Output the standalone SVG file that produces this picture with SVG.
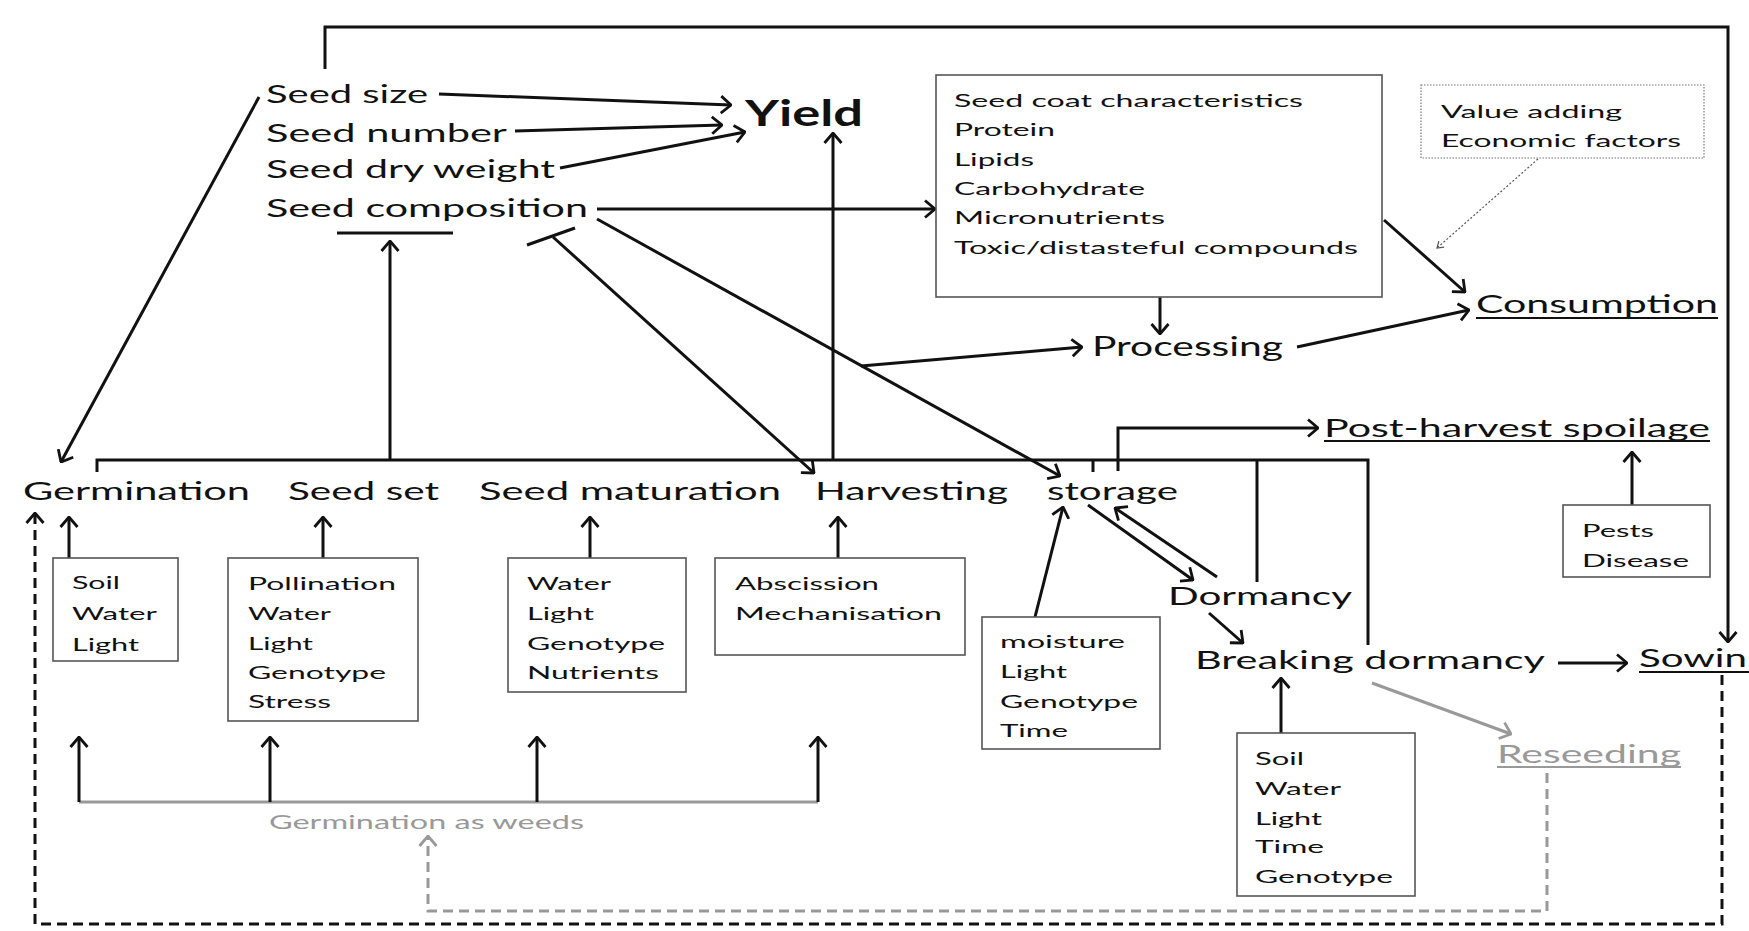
<svg xmlns="http://www.w3.org/2000/svg" width="1749" height="931" viewBox="0 0 1749 931">
<defs>
<style>
text{font-family:Lato,"Liberation Sans",sans-serif;fill:#111}
.m{font-size:25px}
.s{font-size:18px}
.y{font-size:36px;font-weight:bold}
.g{fill:#999}
.box{fill:#fff;stroke:#555;stroke-width:1.6}
.dbox{fill:#fff;stroke:#777;stroke-width:1.2;stroke-dasharray:1.5 1.5}
.ln{fill:none;stroke:#111;stroke-width:3}
.gl{fill:none;stroke:#999;stroke-width:3}
.a{marker-end:url(#ah)}
.ga{marker-end:url(#gah)}
.dash{fill:none;stroke:#111;stroke-width:3;stroke-dasharray:10 6}
.gdash{fill:none;stroke:#999;stroke-width:3;stroke-dasharray:10 6}
.dot{fill:none;stroke:#555;stroke-width:1.2;stroke-dasharray:2 2;marker-end:url(#sah)}
.ul{stroke:#111;stroke-width:2}
.gul{stroke:#999;stroke-width:2}
</style>
<marker id="ah" markerUnits="userSpaceOnUse" viewBox="0 0 12 20" markerWidth="12" markerHeight="20" refX="11" refY="10" orient="auto"><path d="M1,1.5 L11,10 L1,18.5" fill="none" stroke="#111" stroke-width="2.8"/></marker>
<marker id="gah" markerUnits="userSpaceOnUse" viewBox="0 0 12 20" markerWidth="12" markerHeight="20" refX="11" refY="10" orient="auto"><path d="M1,1.5 L11,10 L1,18.5" fill="none" stroke="#999" stroke-width="2.8"/></marker>
<marker id="sah" markerUnits="userSpaceOnUse" viewBox="0 0 8 10" markerWidth="8" markerHeight="10" refX="7" refY="5" orient="auto"><path d="M1,1 L7,5 L1,9" fill="none" stroke="#555" stroke-width="1.2"/></marker>
</defs>
<rect x="0" y="0" width="1749" height="931" fill="#fff"/>

<g id="connectors">
<polyline class="ln a" points="325,69 325,27 1728,27 1728,642"/>
<line class="ln a" x1="439" y1="94" x2="731" y2="105"/>
<line class="ln a" x1="515" y1="131" x2="722" y2="125"/>
<line class="ln a" x1="560" y1="168" x2="745" y2="132"/>
<line class="ln a" x1="597" y1="209" x2="935" y2="209"/>
<line class="ln a" x1="597" y1="219" x2="1060" y2="476"/>
<line class="ln a" x1="861" y1="366" x2="1082" y2="347"/>
<line class="ln" x1="527" y1="245" x2="575" y2="228"/>
<line class="ln a" x1="553" y1="237" x2="814" y2="473"/>
<line class="ln" x1="337" y1="233" x2="453" y2="233"/>
<line class="ln a" x1="390" y1="460" x2="390" y2="241"/>
<line class="ln a" x1="833" y1="460" x2="833" y2="133"/>
<line class="ln a" x1="259" y1="97" x2="61" y2="462"/>
<polyline class="ln" points="97,472 97,460 1368,460 1368,645"/>
<line class="ln" x1="1093" y1="460" x2="1093" y2="472"/>
<polyline class="ln a" points="1118,471 1118,428 1318,428"/>
<line class="ln" x1="1257" y1="460" x2="1257" y2="582"/>
<line class="ln a" x1="1035" y1="617" x2="1063" y2="507"/>
<line class="ln a" x1="1088" y1="505" x2="1193" y2="580"/>
<line class="ln a" x1="1217" y1="577" x2="1115" y2="508"/>
<line class="ln a" x1="1209" y1="613" x2="1243" y2="643"/>
<line class="ln a" x1="1558" y1="663" x2="1627" y2="663"/>
<line class="gl ga" x1="1372" y1="683" x2="1511" y2="734"/>
<line class="ln a" x1="1281" y1="733" x2="1281" y2="678"/>
<line class="ln a" x1="1632" y1="505" x2="1632" y2="452"/>
<line class="ln a" x1="1160" y1="297" x2="1160" y2="334"/>
<line class="ln a" x1="1297" y1="347" x2="1469" y2="310"/>
<line class="ln a" x1="1384" y1="220" x2="1465" y2="292"/>
<line class="dot" x1="1538" y1="159" x2="1437" y2="248"/>
<line class="ln a" x1="69" y1="558" x2="69" y2="517"/>
<line class="ln a" x1="323" y1="558" x2="323" y2="517"/>
<line class="ln a" x1="590" y1="558" x2="590" y2="517"/>
<line class="ln a" x1="838" y1="558" x2="838" y2="517"/>
<line class="gl" x1="79" y1="802" x2="818" y2="802"/>
<line class="ln a" x1="79" y1="802" x2="79" y2="737"/>
<line class="ln a" x1="270" y1="802" x2="270" y2="737"/>
<line class="ln a" x1="537" y1="802" x2="537" y2="737"/>
<line class="ln a" x1="818" y1="802" x2="818" y2="737"/>
<polyline class="dash a" points="1722,675 1722,924 35,924 35,513"/>
<polyline class="gdash ga" points="1547,773 1547,911 428,911 428,836"/>
</g>

<g id="seed-size"><text class="m" x="266" y="103" textLength="162" lengthAdjust="spacingAndGlyphs">Seed size</text></g>
<g id="seed-number"><text class="m" x="266" y="142" textLength="241" lengthAdjust="spacingAndGlyphs">Seed number</text></g>
<g id="seed-dry-weight"><text class="m" x="266" y="178" textLength="289" lengthAdjust="spacingAndGlyphs">Seed dry weight</text></g>
<g id="seed-composition"><text class="m" x="266" y="217" textLength="322" lengthAdjust="spacingAndGlyphs">Seed composition</text></g>
<g id="yield"><text class="y" x="745" y="126" textLength="118" lengthAdjust="spacingAndGlyphs">Yield</text></g>

<g id="composition-box">
<rect class="box" x="936" y="75" width="446" height="222"/>
<text class="s" x="954" y="107" textLength="349" lengthAdjust="spacingAndGlyphs">Seed coat characteristics</text>
<text class="s" x="954" y="136" textLength="101" lengthAdjust="spacingAndGlyphs">Protein</text>
<text class="s" x="954" y="166" textLength="80" lengthAdjust="spacingAndGlyphs">Lipids</text>
<text class="s" x="954" y="195" textLength="191" lengthAdjust="spacingAndGlyphs">Carbohydrate</text>
<text class="s" x="954" y="224" textLength="211" lengthAdjust="spacingAndGlyphs">Micronutrients</text>
<text class="s" x="954" y="254" textLength="404" lengthAdjust="spacingAndGlyphs">Toxic/distasteful compounds</text>
</g>

<g id="value-adding">
<rect class="dbox" x="1421" y="85" width="283" height="73"/>
<text class="s" x="1441" y="118" textLength="181" lengthAdjust="spacingAndGlyphs">Value adding</text>
<text class="s" x="1441" y="147" textLength="240" lengthAdjust="spacingAndGlyphs">Economic factors</text>
</g>

<g id="processing"><text class="m" style="font-size:26px" x="1092" y="356" textLength="191" lengthAdjust="spacingAndGlyphs">Processing</text></g>
<g id="consumption"><text class="m" x="1476" y="313" textLength="242" lengthAdjust="spacingAndGlyphs">Consumption</text><line class="ul" x1="1476" y1="318" x2="1718" y2="318"/></g>
<g id="post-harvest-spoilage"><text class="m" x="1324" y="437" textLength="386" lengthAdjust="spacingAndGlyphs">Post-harvest spoilage</text><line class="ul" x1="1324" y1="441" x2="1710" y2="441"/></g>

<g id="germination"><text class="m" x="23" y="500" textLength="227" lengthAdjust="spacingAndGlyphs">Germination</text></g>
<g id="seed-set"><text class="m" x="288" y="500" textLength="151" lengthAdjust="spacingAndGlyphs">Seed set</text></g>
<g id="seed-maturation"><text class="m" x="479" y="500" textLength="302" lengthAdjust="spacingAndGlyphs">Seed maturation</text></g>
<g id="harvesting"><text class="m" x="815" y="500" textLength="193" lengthAdjust="spacingAndGlyphs">Harvesting</text></g>
<g id="storage"><text class="m" x="1047" y="500" textLength="131" lengthAdjust="spacingAndGlyphs">storage</text></g>
<g id="dormancy"><text class="m" x="1168" y="605" textLength="184" lengthAdjust="spacingAndGlyphs">Dormancy</text></g>
<g id="breaking-dormancy"><text class="m" x="1195" y="669" textLength="350" lengthAdjust="spacingAndGlyphs">Breaking dormancy</text></g>
<g id="sowing"><text class="m" x="1639" y="667" textLength="108" lengthAdjust="spacingAndGlyphs">Sowin</text><line class="ul" x1="1639" y1="672" x2="1749" y2="672"/></g>
<g id="reseeding"><text class="m g" x="1497" y="763" textLength="184" lengthAdjust="spacingAndGlyphs">Reseeding</text><line class="gul" x1="1497" y1="767" x2="1681" y2="767"/></g>
<g id="germination-as-weeds"><text class="g" style="font-size:20px" x="269" y="829" textLength="315" lengthAdjust="spacingAndGlyphs">Germination as weeds</text></g>

<g id="germination-factors">
<rect class="box" x="53" y="558" width="125" height="103"/>
<text class="s" x="72" y="589" textLength="48" lengthAdjust="spacingAndGlyphs">Soil</text>
<text class="s" x="72" y="620" textLength="85" lengthAdjust="spacingAndGlyphs">Water</text>
<text class="s" x="72" y="651" textLength="67" lengthAdjust="spacingAndGlyphs">Light</text>
</g>

<g id="seed-set-factors">
<rect class="box" x="228" y="558" width="190" height="163"/>
<text class="s" x="248" y="590" textLength="148" lengthAdjust="spacingAndGlyphs">Pollination</text>
<text class="s" x="248" y="620" textLength="83" lengthAdjust="spacingAndGlyphs">Water</text>
<text class="s" x="248" y="650" textLength="65" lengthAdjust="spacingAndGlyphs">Light</text>
<text class="s" x="248" y="679" textLength="138" lengthAdjust="spacingAndGlyphs">Genotype</text>
<text class="s" x="248" y="708" textLength="83" lengthAdjust="spacingAndGlyphs">Stress</text>
</g>

<g id="seed-maturation-factors">
<rect class="box" x="508" y="558" width="178" height="134"/>
<text class="s" x="527" y="590" textLength="84" lengthAdjust="spacingAndGlyphs">Water</text>
<text class="s" x="527" y="620" textLength="67" lengthAdjust="spacingAndGlyphs">Light</text>
<text class="s" x="527" y="650" textLength="138" lengthAdjust="spacingAndGlyphs">Genotype</text>
<text class="s" x="527" y="679" textLength="132" lengthAdjust="spacingAndGlyphs">Nutrients</text>
</g>

<g id="harvesting-factors">
<rect class="box" x="715" y="558" width="250" height="97"/>
<text class="s" x="735" y="590" textLength="144" lengthAdjust="spacingAndGlyphs">Abscission</text>
<text class="s" x="735" y="620" textLength="207" lengthAdjust="spacingAndGlyphs">Mechanisation</text>
</g>

<g id="storage-factors">
<rect class="box" x="982" y="617" width="178" height="132"/>
<text class="s" x="1000" y="648" textLength="125" lengthAdjust="spacingAndGlyphs">moisture</text>
<text class="s" x="1000" y="678" textLength="67" lengthAdjust="spacingAndGlyphs">Light</text>
<text class="s" x="1000" y="708" textLength="138" lengthAdjust="spacingAndGlyphs">Genotype</text>
<text class="s" x="1000" y="737" textLength="68" lengthAdjust="spacingAndGlyphs">Time</text>
</g>

<g id="breaking-factors">
<rect class="box" x="1237" y="733" width="178" height="163"/>
<text class="s" x="1255" y="765" textLength="49" lengthAdjust="spacingAndGlyphs">Soil</text>
<text class="s" x="1255" y="795" textLength="86" lengthAdjust="spacingAndGlyphs">Water</text>
<text class="s" x="1255" y="825" textLength="67" lengthAdjust="spacingAndGlyphs">Light</text>
<text class="s" x="1255" y="853" textLength="69" lengthAdjust="spacingAndGlyphs">Time</text>
<text class="s" x="1255" y="883" textLength="138" lengthAdjust="spacingAndGlyphs">Genotype</text>
</g>

<g id="pests-factors">
<rect class="box" x="1563" y="505" width="147" height="72"/>
<text class="s" x="1582" y="537" textLength="72" lengthAdjust="spacingAndGlyphs">Pests</text>
<text class="s" x="1582" y="567" textLength="107" lengthAdjust="spacingAndGlyphs">Disease</text>
</g>
</svg>
